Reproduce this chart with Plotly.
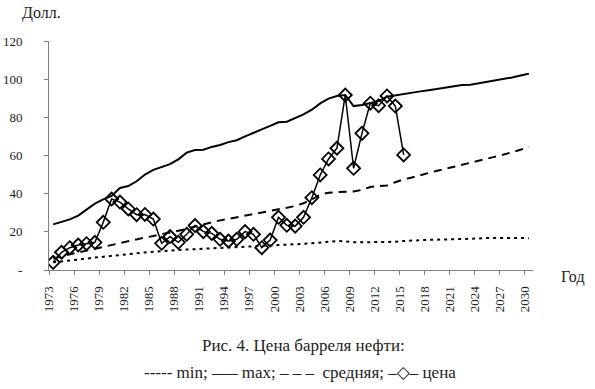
import plotly.graph_objects as go

years = list(range(1973, 2031))
price_years = list(range(1973, 2016))

price = [4.0, 9.3, 11.7, 13.1, 13.8, 14.5, 25.0, 37.2, 35.6, 32.0,
         29.0, 29.1, 26.7, 14.0, 17.5, 14.5, 18.7, 23.3, 20.1, 19.2,
         16.1, 15.2, 16.1, 20.1, 18.7, 11.7, 15.7, 27.6, 23.4, 23.0,
         27.6, 37.9, 49.8, 58.2, 63.8, 91.7, 53.3, 71.6, 87.4, 86.1,
         91.2, 85.9, 60.3]

max_v = [23.9, 25.0, 26.5, 28.5, 31.5, 34.8, 37.0, 38.8, 43.0, 44.0,
         46.5, 50.0, 52.5, 54.0, 55.5, 58.0, 61.5, 62.9, 63.0, 64.5,
         65.5, 67.0, 68.0, 70.0, 72.0, 73.7, 75.5, 77.4, 77.7, 79.5,
         81.5, 84.0, 87.3, 89.8, 91.2, 91.7, 85.9, 86.5, 87.4, 88.5,
         90.8, 91.6, 92.2, 92.9, 93.6, 94.2, 94.9, 95.6, 96.4, 96.9,
         97.1, 97.8, 98.5, 99.3, 100.1, 100.9, 101.9, 102.8]

mean_v = [6.0, 7.3, 8.3, 9.2, 10.2, 11.2, 12.2, 13.3, 14.2, 15.0,
          16.0, 17.0, 17.8, 18.7, 19.5, 20.3, 21.5, 22.8, 24.0, 25.0,
          26.0, 26.8, 27.6, 28.5, 29.3, 30.0, 30.8, 31.5, 32.5, 33.5,
          35.0, 37.0, 39.5, 40.5, 40.8, 41.0, 41.2, 42.0, 43.5, 44.0,
          44.3, 46.0, 47.5, 48.5, 49.8, 50.8, 52.0, 53.0, 54.0, 55.0,
          56.0, 57.3, 58.3, 59.4, 60.5, 61.7, 63.0, 64.6]

min_v = [4.0, 4.4, 5.0, 5.5, 6.0, 6.5, 7.0, 7.5, 8.0, 8.4,
         8.8, 9.2, 9.6, 10.0, 10.3, 10.5, 10.7, 10.9, 11.0, 11.2,
         11.4, 11.6, 11.8, 12.0, 12.2, 12.4, 12.6, 12.8, 13.0, 13.3,
         13.7, 14.0, 14.5, 15.0, 15.2, 15.0, 14.5, 14.5, 14.5, 14.5,
         14.6, 14.8, 15.2, 15.5, 15.7, 15.8, 15.9, 16.0, 16.0, 16.0,
         16.1, 16.5, 16.8, 16.8, 16.8, 16.7, 16.7, 16.7]

tick_years = list(range(1973, 2031, 3))
y_ticks = [0, 20, 40, 60, 80, 100, 120]
y_labels = ["-", "20", "40", "60", "80", "100", "120"]

FONT = "Times New Roman, Liberation Serif, DejaVu Serif, serif"

fig = go.Figure()
fig.add_trace(go.Scatter(x=years, y=min_v, mode="lines", name="min",
                         line=dict(color="black", width=2, dash="3px,4px")))
fig.add_trace(go.Scatter(x=years, y=max_v, mode="lines", name="max",
                         line=dict(color="black", width=2)))
fig.add_trace(go.Scatter(x=years, y=mean_v, mode="lines", name="средняя",
                         line=dict(color="black", width=2, dash="8px,6px")))
fig.add_trace(go.Scatter(x=price_years, y=price, mode="lines+markers", name="цена",
                         line=dict(color="black", width=1.5),
                         marker=dict(symbol="diamond-open", size=10, color="black",
                                     line=dict(width=1.8, color="black"))))

L, R, T, B = 49, 62, 41, 119
W, H = 595, 389
pw, ph = W - L - R, H - T - B

def px(x):
    return (x - L) / pw

def py(y):
    return (H - B - y) / ph

def note(text, x, y, size):
    return dict(text=text, xref="paper", yref="paper", x=px(x), y=py(y),
                xanchor="center", yanchor="middle", showarrow=False,
                font=dict(family=FONT, size=size, color="#222"))

fig.update_layout(
    width=W, height=H,
    margin=dict(l=L, r=R, t=T, b=B),
    paper_bgcolor="white", plot_bgcolor="white",
    showlegend=False,
    font=dict(family=FONT, size=13, color="#222"),
    xaxis=dict(range=[1972.5, 2030.5], tickmode="array",
               tickvals=[y - 0.5 for y in tick_years],
               ticktext=[str(y) for y in tick_years],
               tickangle=-90, ticks="outside", ticklen=4, tickcolor="#808080",
               showline=True, linecolor="#808080", linewidth=1,
               showgrid=False, zeroline=False, automargin=False,
               tickfont=dict(family=FONT, size=13, color="#222"),
               ticklabelstandoff=6),
    yaxis=dict(range=[0, 120], tickmode="array", tickvals=y_ticks, ticktext=y_labels,
               ticks="outside", ticklen=4, tickcolor="#808080",
               showline=True, linecolor="#808080", linewidth=1,
               showgrid=False, zeroline=False, automargin=False,
               tickfont=dict(family=FONT, size=13, color="#222"),
               ticklabelstandoff=19),
    annotations=[
        note("Долл.", 41, 13, 16),
        note("Год", 573, 277, 16),
        note("Рис. 4. Цена барреля нефти:", 303, 345, 17),
        note("----- min; —– max; – – –  средняя; –◇– цена", 300, 372, 17),
    ],
)

fig.write_html("out.html")
